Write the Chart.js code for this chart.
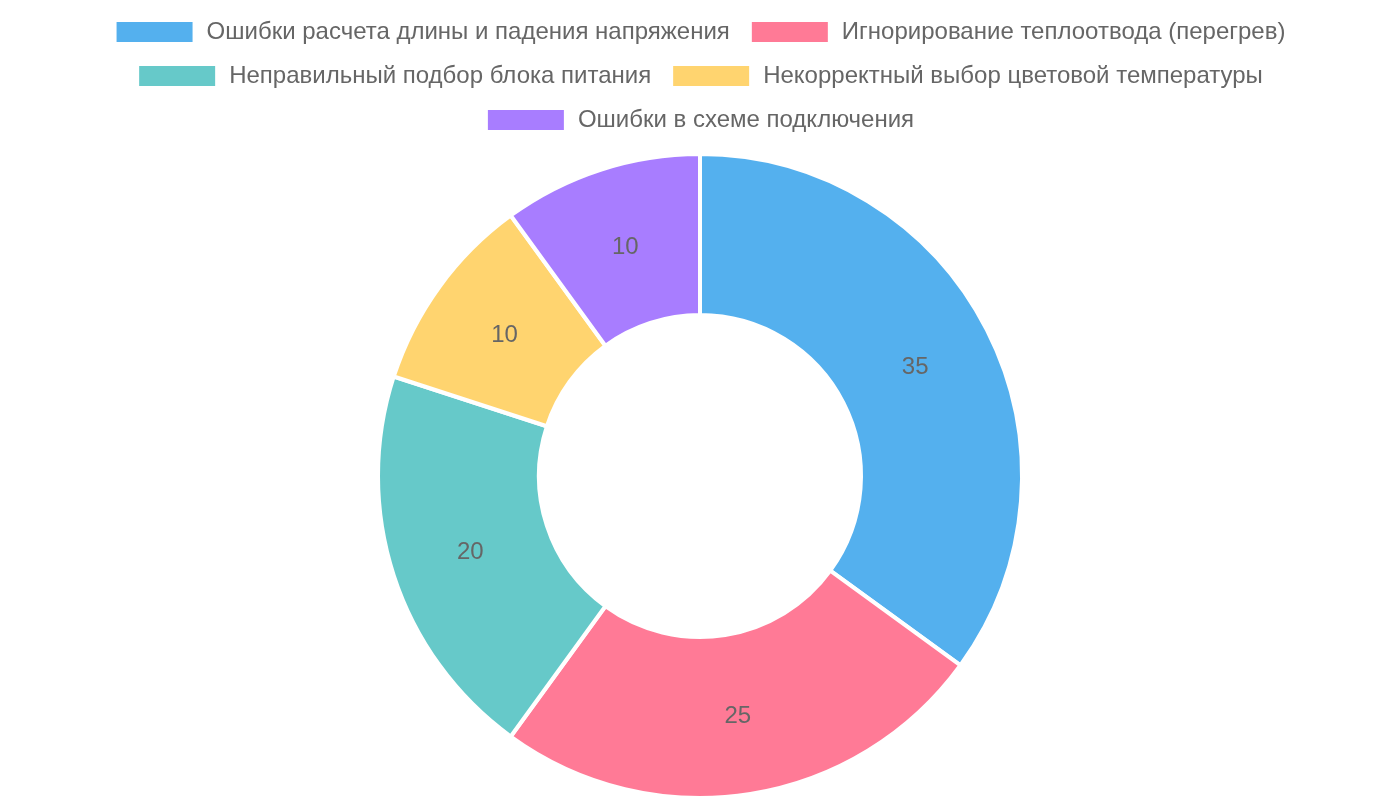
<!DOCTYPE html>
<html>
<head>
<meta charset="utf-8">
<script src="https://cdn.jsdelivr.net/npm/chart.js"></script>
<style>
  html, body { margin: 0; padding: 0; background: #fff; }
  .chart { width: 1400px; height: 800px; }
</style>
</head>
<body>
<div class="chart"><canvas id="errorsChart"></canvas></div>
<script>
// Dados do gráfico
const labels = [
    'Ошибки расчета длины и падения напряжения',
    'Игнорирование теплоотвода (перегрев)',
    'Неправильный подбор блока питания',
    'Некорректный выбор цветовой температуры',
    'Ошибки в схеме подключения'
];
const values = [35, 25, 20, 10, 10];
const colors = [
    'rgba(54, 162, 235, 0.85)',
    'rgba(255, 99, 132, 0.85)',
    'rgba(75, 192, 192, 0.85)',
    'rgba(255, 205, 86, 0.85)',
    'rgba(153, 102, 255, 0.85)'
];

// Plugin simples para escrever o valor no meio de cada fatia
const sliceLabels = {
    id: 'sliceLabels',
    afterDatasetsDraw(chart) {
        const ctx = chart.ctx;
        const meta = chart.getDatasetMeta(0);
        ctx.save();
        ctx.font = '24px "Liberation Sans", Arial, sans-serif';
        ctx.fillStyle = '#666';
        ctx.textAlign = 'center';
        ctx.textBaseline = 'middle';
        meta.data.forEach((arc, i) => {
            const pos = arc.tooltipPosition();
            ctx.fillText(String(values[i]), pos.x, pos.y + 1.5);
        });
        ctx.restore();
    }
};

// Espaço extra abaixo da legenda
const legendMargin = {
    id: 'legendMargin',
    beforeInit(chart) {
        const fit = chart.legend.fit;
        chart.legend.fit = function () {
            fit.bind(chart.legend)();
            this.height += 10;
        };
    }
};

document.addEventListener('DOMContentLoaded', function () {
    const ctx = document.getElementById('errorsChart').getContext('2d');
    new Chart(ctx, {
        type: 'doughnut',
        data: {
            labels: labels,
            datasets: [{
                data: values,
                backgroundColor: colors,
                borderColor: '#fff',
                borderWidth: 4
            }]
        },
        options: {
            responsive: true,
            maintainAspectRatio: false,
            animation: false,
            cutout: '50%',
            plugins: {
                legend: {
                    position: 'top',
                    labels: {
                        boxWidth: 80,
                        padding: 20,
                        color: '#666',
                        font: { size: 24, family: '"Liberation Sans", Arial, sans-serif' }
                    }
                },
                tooltip: { enabled: false }
            }
        },
        plugins: [sliceLabels, legendMargin]
    });
});
</script>
</body>
</html>
